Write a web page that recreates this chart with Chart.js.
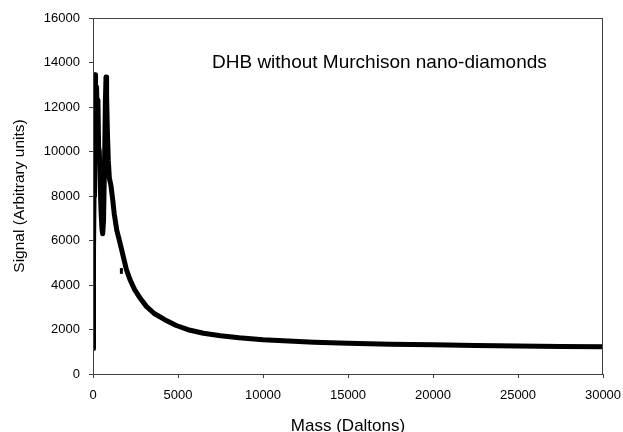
<!DOCTYPE html>
<html>
<head>
<meta charset="utf-8">
<script src="https://cdn.jsdelivr.net/npm/chart.js@4/dist/chart.umd.min.js"></script>
<style>
  html, body { margin: 0; padding: 0; background: #fff; }
  #wrap { width: 623px; height: 432px; }
</style>
</head>
<body>
<div id="wrap"><canvas id="chart"></canvas></div>
<script>
// values
const mass = [0, 20, 40, 60, 90, 120, 150, 180, 210, 250, 290, 330, 370, 420, 480, 530, 570, 620, 680, 730,
  765, 800, 850, 900, 963, 1050, 1150, 1250, 1400, 1570, 1800, 1965, 2200, 2450, 2800, 3140, 3600, 4220,
  4900, 5590, 6500, 7500, 8600, 10000, 11500, 13000, 15000, 17500, 20000, 22500, 25000, 27500, 30000];
const signal = [1150, 3000, 5500, 8000, 11000, 13450, 12800, 11600, 12900, 11400, 12300, 10200, 10000, 8600,
  7200, 6500, 6300, 6900, 9500, 12300, 13350, 12500, 10800, 9600, 8800, 8500, 7900, 7200, 6450, 5950, 5220,
  4690, 4200, 3790, 3380, 3040, 2720, 2440, 2180, 1990, 1830, 1720, 1630, 1540, 1480, 1430, 1380, 1340,
  1310, 1280, 1260, 1240, 1220];
const strayMass = [1670, 1670];
const straySignal = [4500, 4760];
const xTicks = [0, 5000, 10000, 15000, 20000, 25000, 30000];
const yTicks = [0, 2000, 4000, 6000, 8000, 10000, 12000, 14000, 16000];
const chartLabel = 'DHB without Murchison nano-diamonds';

const FONT = '"Liberation Sans", Arial, sans-serif';
const AXIS = '#404040';
Chart.defaults.font.family = FONT;
Chart.defaults.color = '#000';

const toPoints = (xs, ys) => xs.map((x, i) => ({ x: x, y: ys[i] }));

// box round the plot and the label inside it
const frameAndLabel = {
  id: 'frameAndLabel',
  afterDraw(chart) {
    const { ctx, chartArea: a } = chart;
    ctx.save();
    ctx.strokeStyle = AXIS;
    ctx.lineWidth = 1;
    ctx.strokeRect(a.left + 0.5, a.top + 0.5, a.right - a.left - 1, a.bottom - a.top);
    ctx.fillStyle = '#000';
    ctx.font = '19px ' + FONT;
    ctx.textBaseline = 'alphabetic';
    ctx.textAlign = 'left';
    ctx.fillText(chartLabel, a.left + 119, a.top + 50);
    ctx.restore();
  }
};

new Chart(document.getElementById('chart'), {
  type: 'scatter',
  data: {
    datasets: [{
      data: toPoints(mass, signal),
      showLine: true,
      borderColor: '#000',
      borderWidth: 5,
      borderJoinStyle: 'round',
      pointRadius: 0,
      tension: 0
    }, {
      data: toPoints(strayMass, straySignal),
      showLine: true,
      borderColor: '#000',
      borderWidth: 3,
      pointRadius: 0
    }]
  },
  options: {
    responsive: true,
    maintainAspectRatio: false,
    animation: false,
    layout: { padding: { left: 0, right: 20, top: 18, bottom: 0 } },
    plugins: { legend: { display: false }, tooltip: { enabled: false } },
    scales: {
      x: {
        type: 'linear',
        min: 0,
        max: 30000,
        afterBuildTicks: s => { s.ticks = xTicks.map(v => ({ value: v })); },
        afterFit: s => { s.height = 58; s.paddingLeft = 0; s.paddingRight = 0; },
        grid: { drawOnChartArea: false, drawTicks: true, tickLength: 4, color: AXIS },
        border: { display: true, color: AXIS },
        ticks: { padding: 10, font: { size: 13 }, maxRotation: 0, callback: v => String(v) },
        title: {
          display: true,
          text: 'Mass (Daltons)',
          font: { size: 17, lineHeight: 1 },
          padding: { top: 0, bottom: -3 }
        }
      },
      y: {
        type: 'linear',
        min: 0,
        max: 16000,
        afterBuildTicks: s => { s.ticks = yTicks.map(v => ({ value: v })); },
        afterFit: s => { s.width = 93; s.paddingTop = 0; s.paddingBottom = 0; },
        grid: { drawOnChartArea: false, drawTicks: true, tickLength: 4, color: AXIS },
        border: { display: true, color: AXIS },
        ticks: { padding: 9, font: { size: 13 }, callback: v => String(v) },
        title: {
          display: true,
          text: 'Signal (Arbitrary units)',
          font: { size: 15.5 },
          padding: { top: 10, bottom: 0 }
        }
      }
    }
  },
  plugins: [frameAndLabel]
});
</script>
</body>
</html>
